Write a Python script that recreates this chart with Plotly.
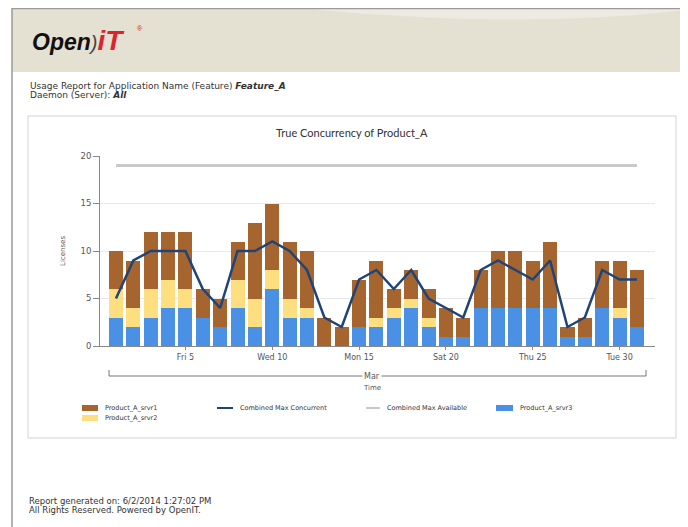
import plotly.graph_objects as go

# ---------------- data ----------------
days = [1, 2, 3, 4, 5, 6, 7, 8, 9, 10, 11, 12, 13, 14, 15, 16,
        17, 18, 19, 20, 21, 22, 23, 24, 25, 26, 27, 28, 29, 30, 31]
srvr3 = [3, 2, 3, 4, 4, 3, 2, 4, 2, 6, 3, 3, 0, 0, 2, 2,
         3, 4, 2, 1, 1, 4, 4, 4, 4, 4, 1, 1, 4, 3, 2]
srvr2 = [3, 2, 3, 3, 2, 0, 0, 3, 3, 2, 2, 1, 0, 0, 0, 1,
         1, 1, 1, 0, 0, 0, 0, 0, 0, 0, 0, 0, 0, 1, 0]
srvr1 = [4, 5, 6, 5, 6, 3, 3, 4, 8, 7, 6, 6, 3, 2, 5, 6,
         2, 3, 3, 3, 2, 4, 6, 6, 5, 7, 1, 2, 5, 5, 6]
max_concurrent = [5, 9, 10, 10, 10, 6, 4, 10, 10, 11, 10, 8, 3, 2, 7, 8,
                  6, 8, 5, 4, 3, 8, 9, 8, 7, 9, 2, 3, 8, 7, 7]
max_available = [19] * 31
tick_days = [5, 10, 15, 20, 25, 30]
tick_labels = ["Fri 5", "Wed 10", "Mon 15", "Sat 20", "Thu 25", "Tue 30"]
y_ticks = [0, 5, 10, 15, 20]

C_BROWN = "#A6642F"
C_YELLOW = "#FEDF80"
C_BLUE = "#4A90E5"
C_NAVY = "#1F4478"
C_GRAY = "#C9C9C9"

# page offset of the plot div (default body margin of the html page)
OFF = 8
WIN_W, WIN_H = 688, 527
W, H = WIN_W - OFF, WIN_H - OFF
# plot area in window pixels
L, R, T, B = 100, 655, 156, 346


def fx(p):
    return (p - L) / (R - L)


def fy(p):
    return (B - p) / (B - T)


fig = go.Figure()
fig.add_trace(go.Bar(x=days, y=srvr3, name="Product_A_srvr3", marker=dict(color=C_BLUE, line=dict(width=0))))
fig.add_trace(go.Bar(x=days, y=srvr2, name="Product_A_srvr2", marker=dict(color=C_YELLOW, line=dict(width=0))))
fig.add_trace(go.Bar(x=days, y=srvr1, name="Product_A_srvr1", marker=dict(color=C_BROWN, line=dict(width=0))))
fig.add_trace(go.Scatter(x=days, y=max_available, mode="lines", name="Combined Max Available",
                         line=dict(color=C_GRAY, width=3)))
fig.add_trace(go.Scatter(x=days, y=max_concurrent, mode="lines", name="Combined Max Concurrent",
                         line=dict(color=C_NAVY, width=2.5)))

shapes = []
annotations = []
TXT = "DejaVu Sans, Verdana, sans-serif"

# page frame / header band
shapes.append(dict(type="rect", xref="paper", yref="paper", x0=fx(12), x1=fx(687), y0=fy(72), y1=fy(8),
                   fillcolor="#E4E0D2", line=dict(width=0), layer="below"))
shapes.append(dict(type="path", xref="paper", yref="paper",
                   path="M %f,%f Q %f,%f %f,%f L %f,%f Z" % (fx(300), fy(8), fx(520), fy(30), fx(687), fy(10),
                                                               fx(687), fy(8)),
                   fillcolor="#ECEAE1", line=dict(width=0), layer="below"))
shapes.append(dict(type="line", xref="paper", yref="paper", x0=fx(12), x1=fx(687), y0=fy(8.5), y1=fy(8.5),
                   line=dict(color="#9A9A9A", width=1.5)))
shapes.append(dict(type="line", xref="paper", yref="paper", x0=fx(12), x1=fx(12), y0=fy(8), y1=fy(528),
                   line=dict(color="#9A9A9A", width=1.5)))
shapes.append(dict(type="line", xref="paper", yref="paper", x0=fx(686.5), x1=fx(686.5), y0=fy(8), y1=fy(528),
                   line=dict(color="#9A9A9A", width=1.5)))
# chart panel
shapes.append(dict(type="rect", xref="paper", yref="paper", x0=fx(28), x1=fx(676), y0=fy(438), y1=fy(116),
                   fillcolor="rgba(0,0,0,0)", line=dict(color="#E2E2E2", width=1.5), layer="below"))

# logo (single text run: "Open" + swoosh + red "iT")
annotations.append(dict(
    xref="paper", yref="paper", x=fx(30), y=fy(40), xanchor="left", yanchor="middle", showarrow=False,
    text=("<b><i>Open</i></b><span style='color:#444444;font-size:20px'><i>)</i></span>"
          "<span style='color:#E0202A;font-size:28px'><b><i>iT</i></b></span>"),
    font=dict(family="Liberation Sans, Arial, sans-serif", size=23, color="#111111")))
annotations.append(dict(xref="paper", yref="paper", x=fx(135), y=fy(29), xanchor="left", yanchor="middle",
                        showarrow=False, text="®",
                        font=dict(family="Liberation Sans, Arial, sans-serif", size=7, color="#E0202A")))

# header text
annotations.append(dict(xref="paper", yref="paper", x=fx(28), y=fy(86), xanchor="left", yanchor="middle",
                        showarrow=False,
                        text="Usage Report for Application Name (Feature) <b><i>Feature_A</i></b>",
                        font=dict(family=TXT, size=9, color="#333333")))
annotations.append(dict(xref="paper", yref="paper", x=fx(28), y=fy(95), xanchor="left", yanchor="middle",
                        showarrow=False, text="Daemon (Server): <b><i>All</i></b>",
                        font=dict(family=TXT, size=9, color="#333333")))

# chart title
annotations.append(dict(xref="paper", yref="paper", x=fx(352), y=fy(132), xanchor="center", yanchor="middle",
                        showarrow=False, text="True Concurrency of Product_A",
                        font=dict(family="Lato, Open Sans, sans-serif", size=11, color="#333333")))

# y axis title
annotations.append(dict(xref="paper", yref="paper", x=fx(63), y=fy(251), xanchor="center", yanchor="middle",
                        showarrow=False, text="Licenses", textangle=-90,
                        font=dict(family=TXT, size=7, color="#555555")))

# month bracket
shapes.append(dict(type="line", xref="paper", yref="paper", x0=fx(109), x1=fx(646), y0=fy(376), y1=fy(376),
                   line=dict(color="#777777", width=1)))
shapes.append(dict(type="line", xref="paper", yref="paper", x0=fx(109), x1=fx(109), y0=fy(376), y1=fy(370),
                   line=dict(color="#777777", width=1)))
shapes.append(dict(type="line", xref="paper", yref="paper", x0=fx(646), x1=fx(646), y0=fy(376), y1=fy(370),
                   line=dict(color="#777777", width=1)))
annotations.append(dict(xref="paper", yref="paper", x=fx(372), y=fy(376), xanchor="center", yanchor="middle",
                        showarrow=False, text="Mar", bgcolor="white", borderpad=1,
                        font=dict(family=TXT, size=8, color="#555555")))
annotations.append(dict(xref="paper", yref="paper", x=fx(372), y=fy(388), xanchor="center", yanchor="middle",
                        showarrow=False, text="Time",
                        font=dict(family=TXT, size=7, color="#555555")))

# legend (manual)
LEG_FONT = dict(family=TXT, size=6.5, color="#333333")
legend_items = [
    ("rect", C_BROWN, 82, 98, 408, "Product_A_srvr1"),
    ("rect", C_YELLOW, 82, 98, 418, "Product_A_srvr2"),
    ("line", C_NAVY, 217, 233, 408, "Combined Max Concurrent"),
    ("line", C_GRAY, 366, 380, 408, "Combined Max Available"),
    ("rect", C_BLUE, 496, 513, 408, "Product_A_srvr3"),
]
for kind, col, x0, x1, yy, label in legend_items:
    if kind == "rect":
        shapes.append(dict(type="rect", xref="paper", yref="paper", x0=fx(x0), x1=fx(x1),
                           y0=fy(yy + 3), y1=fy(yy - 3), fillcolor=col, line=dict(width=0)))
    else:
        shapes.append(dict(type="line", xref="paper", yref="paper", x0=fx(x0), x1=fx(x1),
                           y0=fy(yy), y1=fy(yy), line=dict(color=col, width=2)))
    annotations.append(dict(xref="paper", yref="paper", x=fx(x1 + 5), y=fy(yy), xanchor="left",
                            yanchor="middle", showarrow=False, text=label, font=LEG_FONT))

# footer
annotations.append(dict(xref="paper", yref="paper", x=fx(27), y=fy(501), xanchor="left", yanchor="middle",
                        showarrow=False, text="Report generated on: 6/2/2014 1:27:02 PM",
                        font=dict(family=TXT, size=8.5, color="#333333")))
annotations.append(dict(xref="paper", yref="paper", x=fx(27), y=fy(510), xanchor="left", yanchor="middle",
                        showarrow=False, text="All Rights Reserved. Powered by OpenIT.",
                        font=dict(family=TXT, size=8.5, color="#333333")))

fig.update_layout(
    width=W, height=H, autosize=False,
    margin=dict(l=L - OFF, r=WIN_W - R, t=T - OFF, b=WIN_H - B, pad=0),
    paper_bgcolor="white", plot_bgcolor="white",
    barmode="stack", bargap=0.19,
    showlegend=False,
    shapes=shapes, annotations=annotations,
    xaxis=dict(range=[0.08, 32.04], tickmode="array", tickvals=tick_days, ticktext=tick_labels,
               showgrid=False, zeroline=False, showline=True, linecolor="#888888", linewidth=1,
               ticks="outside", ticklen=3, tickcolor="#888888",
               tickfont=dict(family=TXT, size=8, color="#555555")),
    yaxis=dict(range=[0, 20], tickmode="array", tickvals=y_ticks, showgrid=True, gridcolor="#E8E8E8",
               gridwidth=1, zeroline=False, showline=True, linecolor="#888888", linewidth=1,
               ticks="outside", ticklen=6, tickcolor="#888888",
               tickfont=dict(family=TXT, size=8.5, color="#555555")),
)

fig.write_html("out.html")
